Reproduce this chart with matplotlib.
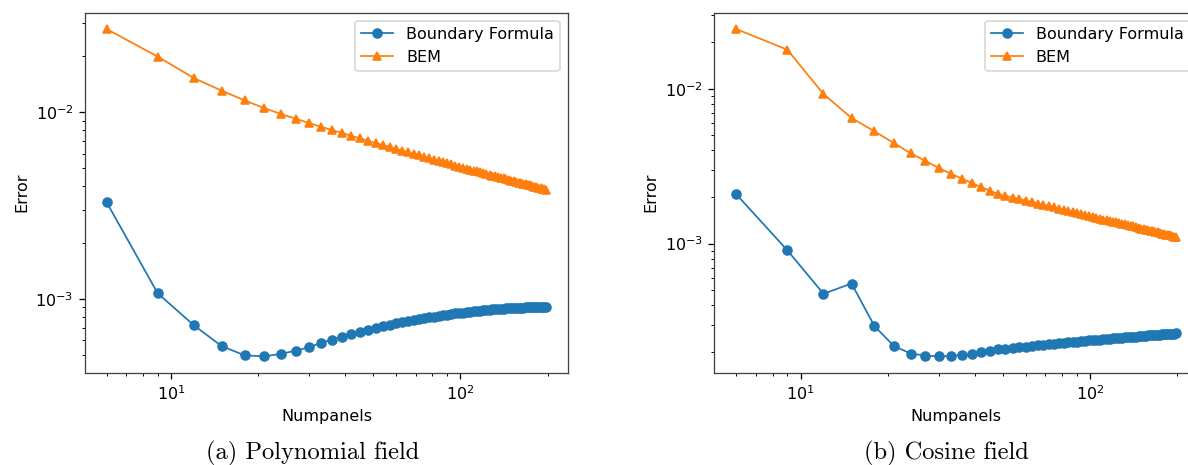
import numpy as np
import matplotlib
matplotlib.use('Agg')
import matplotlib.pyplot as plt


# number of panels (x axis, both panels)
numpanels = [6, 9, 12, 15, 18, 21, 24, 27, 30, 33,
             36, 39, 42, 45, 48, 51, 54, 57, 60, 63,
             66, 69, 72, 75, 78, 81, 84, 87, 90, 93,
             96, 99, 102, 105, 108, 111, 114, 117, 120, 123,
             126, 129, 132, 135, 138, 141, 144, 147, 150, 153,
             156, 159, 162, 165, 168, 171, 174, 177, 180, 183,
             186, 189, 192, 195, 198]

# (a) polynomial field
bf_poly = [0.003285, 0.001072, 0.000723, 0.000558, 0.000499, 0.000493, 0.000508, 0.000529, 0.000551, 0.000582,
           0.000606, 0.000628, 0.000647, 0.000666, 0.000682, 0.000699, 0.000713, 0.000727, 0.000739, 0.000750,
           0.000761, 0.000771, 0.000780, 0.000789, 0.000797, 0.000805, 0.000812, 0.000819, 0.000825, 0.000831,
           0.000836, 0.000841, 0.000846, 0.000851, 0.000855, 0.000859, 0.000863, 0.000866, 0.000870, 0.000873,
           0.000876, 0.000878, 0.000881, 0.000883, 0.000885, 0.000887, 0.000889, 0.000891, 0.000893, 0.000894,
           0.000896, 0.000897, 0.000898, 0.000899, 0.000900, 0.000901, 0.000902, 0.000903, 0.000904, 0.000904,
           0.000905, 0.000905, 0.000906, 0.000906, 0.000906]
bem_poly = [0.0278, 0.0198, 0.0152, 0.0130, 0.01153, 0.0105, 0.00976, 0.00921, 0.00873, 0.00834,
            0.00801, 0.00772, 0.00746, 0.00723, 0.00702, 0.00683, 0.00665, 0.00649, 0.00635, 0.00621,
            0.00608, 0.00597, 0.00586, 0.00575, 0.00565, 0.00556, 0.00548, 0.00540, 0.00532, 0.00524,
            0.00517, 0.00511, 0.00504, 0.00498, 0.00492, 0.00486, 0.00481, 0.00476, 0.00471, 0.00466,
            0.00461, 0.00457, 0.00453, 0.00448, 0.00444, 0.00441, 0.00437, 0.00433, 0.00430, 0.00426,
            0.00423, 0.00419, 0.00416, 0.00413, 0.00410, 0.00407, 0.00405, 0.00402, 0.00399, 0.00396,
            0.00394, 0.00391, 0.00389, 0.00386, 0.00384]

# (b) cosine field
bf_cos = [0.00208, 0.000905, 0.000474, 0.000552, 0.000293, 0.000218, 0.000195, 0.000189, 0.000187, 0.000188,
          0.000191, 0.000194, 0.000199, 0.000203, 0.000207, 0.000209, 0.000211, 0.000214, 0.000216, 0.000218,
          0.000220, 0.000222, 0.000224, 0.000225, 0.000227, 0.000229, 0.000230, 0.000232, 0.000233, 0.000234,
          0.000236, 0.000237, 0.000238, 0.000239, 0.000240, 0.000241, 0.000242, 0.000243, 0.000244, 0.000245,
          0.000246, 0.000247, 0.000248, 0.000249, 0.000250, 0.000251, 0.000251, 0.000252, 0.000253, 0.000254,
          0.000254, 0.000255, 0.000256, 0.000256, 0.000257, 0.000258, 0.000258, 0.000259, 0.000259, 0.000260,
          0.000260, 0.000261, 0.000262, 0.000262, 0.000263]
bem_cos = [0.02427, 0.01785, 0.00924, 0.00647, 0.00530, 0.00446, 0.003825, 0.003416, 0.003078, 0.00283,
           0.00263, 0.00246, 0.00232, 0.00220, 0.00209, 0.00203, 0.00198, 0.00194, 0.00189, 0.00185,
           0.00181, 0.00178, 0.00174, 0.00171, 0.00168, 0.00165, 0.00163, 0.00160, 0.00158, 0.00155,
           0.00153, 0.00151, 0.00149, 0.00147, 0.00145, 0.00143, 0.00142, 0.00140, 0.00138, 0.00137,
           0.00135, 0.00134, 0.00133, 0.00131, 0.00130, 0.00129, 0.00128, 0.00126, 0.00125, 0.00124,
           0.00123, 0.00122, 0.00121, 0.00120, 0.00119, 0.00118, 0.00117, 0.00116, 0.00115, 0.00114,
           0.001136, 0.00113, 0.00112, 0.00111, 0.00110]

captions = ['(a) Polynomial field', '(b) Cosine field']


dpi = 115.2
fig = plt.figure(figsize=(1188 / dpi, 465 / dpi), dpi=dpi)

# right panel runs past the figure edge, like the cropped reference
ax_a = fig.add_axes([0.0713, 0.1985, 0.4071, 0.7742])
ax_b = fig.add_axes([0.6013, 0.1985, 0.4071, 0.7742])

for ax, bf, bem in [(ax_a, bf_poly, bem_poly), (ax_b, bf_cos, bem_cos)]:
    ax.plot(numpanels, bf, 'o-', lw=1.1, ms=5.6, label='Boundary Formula')
    ax.plot(numpanels, bem, '^-', lw=1.1, ms=5.6, label='BEM')
    ax.set_xscale('log')
    ax.set_yscale('log')
    ax.set_xlabel('Numpanels')
    ax.set_ylabel('Error')
    ax.legend(loc='upper right')
    for s in ax.spines.values():
        s.set_edgecolor('#404040')

fig.text(312.7 / 1188, 5.5 / 465, captions[0], family='cmr10', fontsize=15.3,
         ha='center', va='baseline')
fig.text(946.5 / 1188, 5.5 / 465, captions[1], family='cmr10', fontsize=15.3,
         ha='center', va='baseline')

fig.savefig('out.png', dpi=dpi)
